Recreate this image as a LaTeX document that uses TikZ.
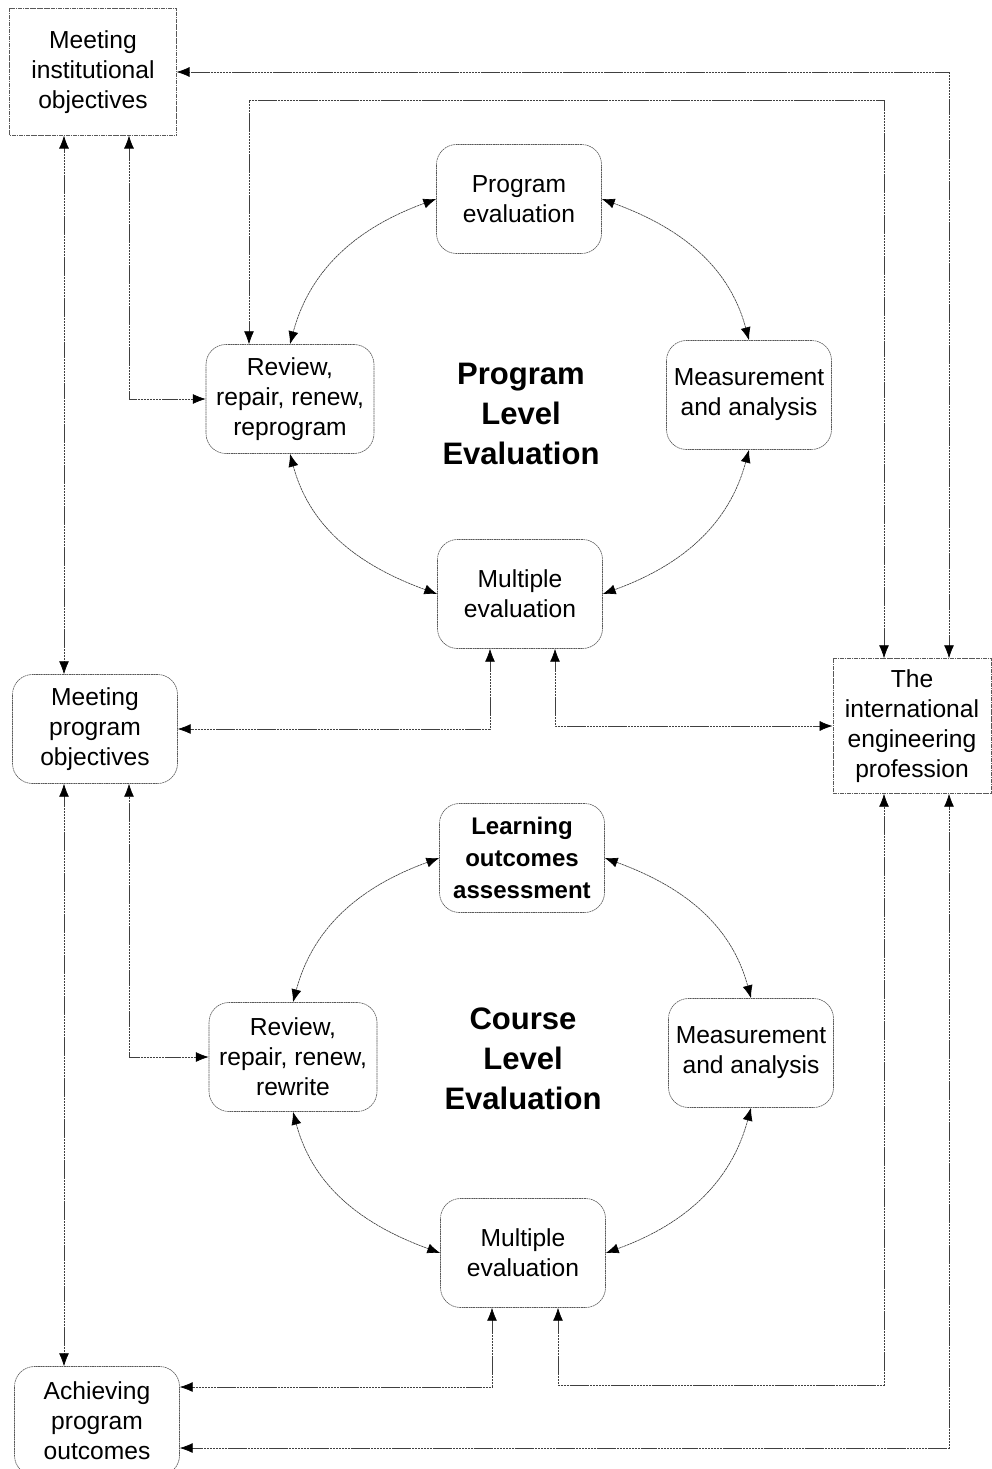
\documentclass[tikz,border=0pt]{standalone}
\usepackage{fontspec}
\setmainfont{Liberation Sans}
\usetikzlibrary{arrows.meta}

\begin{document}
\begin{tikzpicture}[x=0.03cm, y=-0.03cm, >={Latex[length=11pt,width=8.5pt,color=black]}]
\tikzset{
base/.style     = {draw=black!65, dash pattern=on 1.5pt off 0.5pt, line width=0.5pt, fill=white, align=center, inner sep=1pt, font=\fontsize{21}{25.6}\selectfont},
outer/.style    = {base, shape=rectangle},
stage/.style    = {base, rounded corners=0.6cm, minimum width=4.95cm, minimum height=3.27cm},
heading/.style  = {align=center, font=\bfseries\fontsize{26.5}{34}\selectfont},
conn/.style     = {<->, draw=black!75, dash pattern=on 2pt off 0.5pt, line width=0.55pt},
}
    \useasboundingbox (0,0) rectangle (992,1469);

    % Outer nodes
    \node [outer, minimum width=5cm, minimum height=3.8cm]      (inst)      at (93,72)    {Meeting\\institutional\\objectives};
    \node [stage]                                               (progobj)   at (95,729)   {Meeting\\program\\objectives};
    \node [stage]                                               (achieve)   at (97,1421)  {Achieving\\program\\outcomes};
    \node [outer, minimum width=4.75cm, minimum height=4.05cm]  (intl)      at (912,726)  {The\\international\\engineering\\profession};

    % Program level
    \node [heading]                     (proglevel)  at (521,414)  {Program\\Level\\Evaluation};
    \node [stage]                       (progeval)   at (519,199)  {Program\\evaluation};
    \node [stage, minimum width=5.04cm] (review1)    at (290,399)  {Review,\\repair, renew,\\reprogram};
    \node [stage]                       (meas1)      at (749,395)  {Measurement\\and analysis};
    \node [stage]                       (multi1)     at (520,594)  {Multiple\\evaluation};

    % Course level
    \node [heading]                     (courselevel) at (523,1059) {Course\\Level\\Evaluation};
    \node [stage, font=\bfseries\fontsize{20.5}{27}\selectfont] (learn) at (522,858) {Learning\\outcomes\\assessment};
    \node [stage, minimum width=5.04cm] (review2)    at (293,1057) {Review,\\repair, renew,\\rewrite};
    \node [stage]                       (meas2)      at (751,1053) {Measurement\\and analysis};
    \node [stage]                       (multi2)     at (523,1253) {Multiple\\evaluation};

    % Line positions
    \coordinate (xa) at (64,0);
    \coordinate (xb) at (129,0);
    \coordinate (xc) at (249,0);
    \coordinate (xd) at (884,0);
    \coordinate (xe) at (949,0);
    \coordinate (yc) at (0,100);
    \coordinate (yf) at (0,1385);

    % Cycle edges
    \draw [conn] (progeval.west) to[out=200, in=75]  (review1.north);
    \draw [conn] (progeval.east) to[out=-20, in=105] (meas1.north);
    \draw [conn] (review1.south) to[out=-75, in=160] (multi1.west);
    \draw [conn] (meas1.south)   to[out=-105, in=20] (multi1.east);

    \draw [conn] (learn.west)    to[out=200, in=75]  (review2.north);
    \draw [conn] (learn.east)    to[out=-20, in=105] (meas2.north);
    \draw [conn] (review2.south) to[out=-75, in=160] (multi2.west);
    \draw [conn] (meas2.south)   to[out=-105, in=20] (multi2.east);

    % Outer edges
    \draw [conn] (inst.south -| xa) -- (progobj.north -| xa);
    \draw [conn] (progobj.south -| xa) -- (achieve.north -| xa);
    \draw [conn] (review1.west) -| (inst.south -| xb);
    \draw [conn] (review2.west) -| (progobj.south -| xb);
    \draw [conn] (review1.north -| xc) |- (xd |- yc) -- (intl.north -| xd);
    \draw [conn] (intl.north -| xe) |- (inst.east);
    \draw [conn] ([xshift=-0.9cm]multi1.south) |- (progobj.east);
    \draw [conn] ([xshift=1.05cm]multi1.south) |- (intl.west);
    \draw [conn] ([xshift=-0.93cm]multi2.south) |- ([yshift=1.02cm]achieve.east);
    \draw [conn] ([xshift=1.05cm]multi2.south) |- (xd |- yf) -- (intl.south -| xd);
    \draw [conn] ([yshift=-0.81cm]achieve.east) -| (intl.south -| xe);

\end{tikzpicture}
\end{document}
